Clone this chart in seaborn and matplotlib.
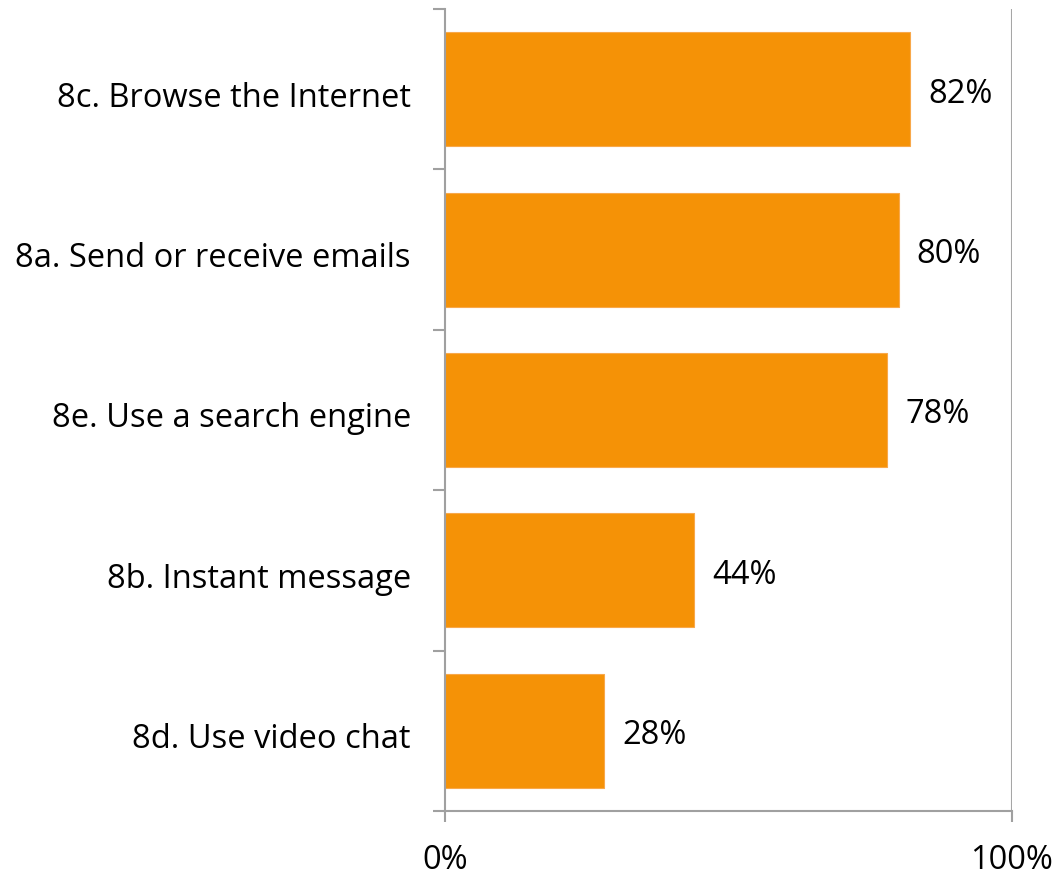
import matplotlib
matplotlib.use("Agg")
import matplotlib.pyplot as plt
import matplotlib.transforms as mtransforms
import seaborn as sns
import pandas as pd
import numpy as np

categories = ["8c. Browse the Internet", "8a. Send or receive emails",
              "8e. Use a search engine", "8b. Instant message", "8d. Use video chat"]
values = [82, 80, 78, 44, 28]
value_labels = ["82%", "80%", "78%", "44%", "28%"]
x_ticks = [0, 100]
x_tick_labels = ["0%", "100%"]

sns.set_theme(style="white")
plt.rcParams["font.family"] = ["Open Sans", "DejaVu Sans"]

df = pd.DataFrame({"item": categories, "pct": values})

fig = plt.figure(figsize=(10.55, 8.77), dpi=100)
ax = fig.add_axes([0.4218, 0.0753, 0.5374, 0.9144])

bar_color = "#F59206"
sns.barplot(data=df, y="item", x="pct", orient="h", color=bar_color,
            width=0.71, saturation=1, ax=ax, edgecolor="#F8A84A", linewidth=0.8)

ax.set_xlim(0, 100)
ax.set_ylim(len(categories) - 0.5, -0.5)
ax.set_xlabel("")
ax.set_ylabel("")

# gridline at 100%
ax.axvline(100, color="#A6A6A6", linewidth=1.5, zorder=0)

for spine in ["top", "right"]:
    ax.spines[spine].set_visible(False)
for spine in ["left", "bottom"]:
    ax.spines[spine].set_color("#A0A0A0")
    ax.spines[spine].set_linewidth(1.5)

fs = 23.5

# category labels without major tick marks; boundary ticks as minor
ax.tick_params(axis="y", which="major", left=False, length=0, pad=24.5,
               labelsize=fs, labelcolor="black")
ax.set_yticks(np.arange(-0.5, len(categories), 1.0), minor=True)
ax.tick_params(axis="y", which="minor", left=True, length=8.5, width=1.5,
               color="#A0A0A0", direction="out")

ax.set_xticks(x_ticks)
ax.set_xticklabels(x_tick_labels)
ax.tick_params(axis="x", which="major", bottom=True, length=8, width=1.5, color="#A0A0A0",
               direction="out", pad=16, labelsize=fs, labelcolor="black")

# nudge category labels slightly down
shift = mtransforms.ScaledTranslation(0, -5 / 100, fig.dpi_scale_trans)
for lab in ax.get_yticklabels():
    lab.set_ha("right")
    lab.set_transform(lab.get_transform() + shift)

for i, (v, lab) in enumerate(zip(values, value_labels)):
    ax.text(v + 3.2, i + 0.03, lab, va="center", ha="left", fontsize=fs, color="black")

fig.savefig("out.png", dpi=100)
